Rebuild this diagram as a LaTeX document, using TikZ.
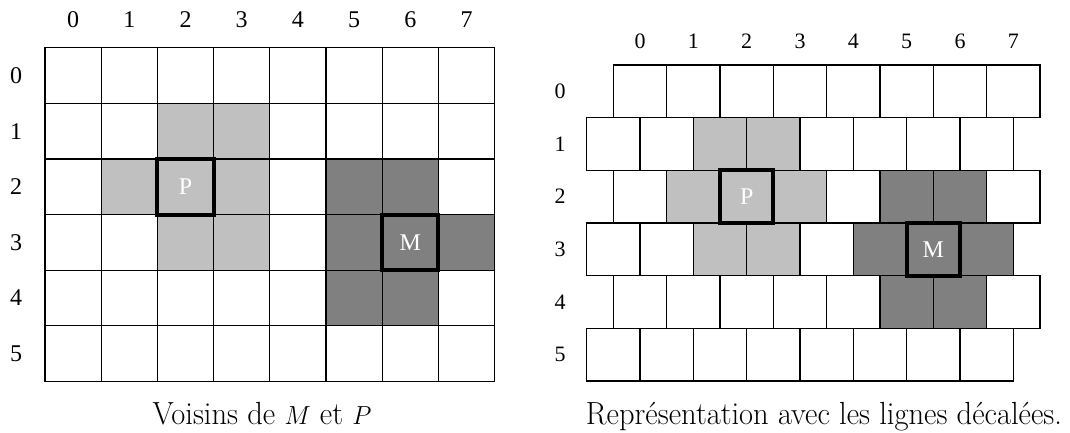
\documentclass[tikz,border=0pt]{standalone}
\usepackage{fontspec}
\newfontfamily\numfont{Liberation Serif}
\definecolor{lightg}{RGB}{192,192,192}
\definecolor{darkg}{RGB}{128,128,128}
\newcommand{\pickcolor}[2]{%
  \gdef\cc{white}%
  \foreach \a/\b in {1/2,1/3,2/1,2/2,2/3,3/2,3/3}{\ifnum#1=\a\relax\ifnum#2=\b\relax\gdef\cc{lightg}\fi\fi}%
  \foreach \a/\b in {2/5,2/6,3/5,3/6,3/7,4/5,4/6}{\ifnum#1=\a\relax\ifnum#2=\b\relax\gdef\cc{darkg}\fi\fi}%
}
\begin{document}
\begin{tikzpicture}[x=1pt,y=-1pt,
  lcell/.style={draw=black,line width=1.2pt,minimum width=56.2pt,minimum height=55.6pt,inner sep=0pt,outer sep=0pt},
  rcell/.style={draw=black,line width=1.4pt,minimum width=53.33pt,minimum height=52.67pt,inner sep=0pt,outer sep=0pt},
  marked/.style={draw=black,line width=4pt,inner sep=0pt,outer sep=0pt,text=white,font=\numfont\fontsize{24}{28}\selectfont},
  lab/.style={font=\numfont\fontsize{24}{28}\selectfont,inner sep=0pt},
  rlab/.style={font=\numfont\fontsize{22}{26}\selectfont,inner sep=0pt},
  caption/.style={font=\fontsize{30.5}{34}\selectfont,anchor=base,inner sep=0pt,yscale=1.05}]
\useasboundingbox (0,0) rectangle (1070,433);
% left grid
\foreach \r in {0,...,5}{\foreach \c in {0,...,7}{
  \pickcolor{\r}{\c}
  \node[lcell,fill=\cc] (L\r\c) at ({45+56.2*(\c+0.5)},{47.7+55.6*(\r+0.5)}) {};
}}
\foreach \c in {0,...,7}{\node[lab] (LC\c) at ({45+56.2*(\c+0.5)},20) {\c};}
\foreach \r in {0,...,5}{\node[lab] (LR\r) at (16,{47.7+55.6*(\r+0.5)}) {\r};}
\node[marked,minimum width=56.2pt,minimum height=55.6pt] (LP) at (L22) {P};
\node[marked,minimum width=56.2pt,minimum height=55.6pt] (LM) at (L36) {M};
% right grid
\foreach \r in {0,...,5}{\foreach \c in {0,...,7}{
  \pickcolor{\r}{\c}
  \pgfmathsetmacro{\off}{ifthenelse(mod(\r,2)==0,26.67,0)}
  \node[rcell,fill=\cc] (R\r\c) at ({586.7+\off+53.33*(\c+0.5)},{65+52.67*(\r+0.5)}) {};
}}
\foreach \c in {0,...,7}{\node[rlab] (RC\c) at ({586.7+53.33*(\c+1)},41) {\c};}
\foreach \r in {0,...,5}{\node[rlab] (RR\r) at (560,{65+52.67*(\r+0.5)}) {\r};}
\node[marked,minimum width=53.33pt,minimum height=52.67pt] (RP) at (R22) {P};
\node[marked,minimum width=53.33pt,minimum height=52.67pt] (RM) at (R36) {M};
% captions
\node[caption] (capL) at (262,424) {Voisins de $M$ et $P$};
\node[caption] (capR) at (824,424) {Représentation avec les lignes décalées.};
\end{tikzpicture}
\end{document}
